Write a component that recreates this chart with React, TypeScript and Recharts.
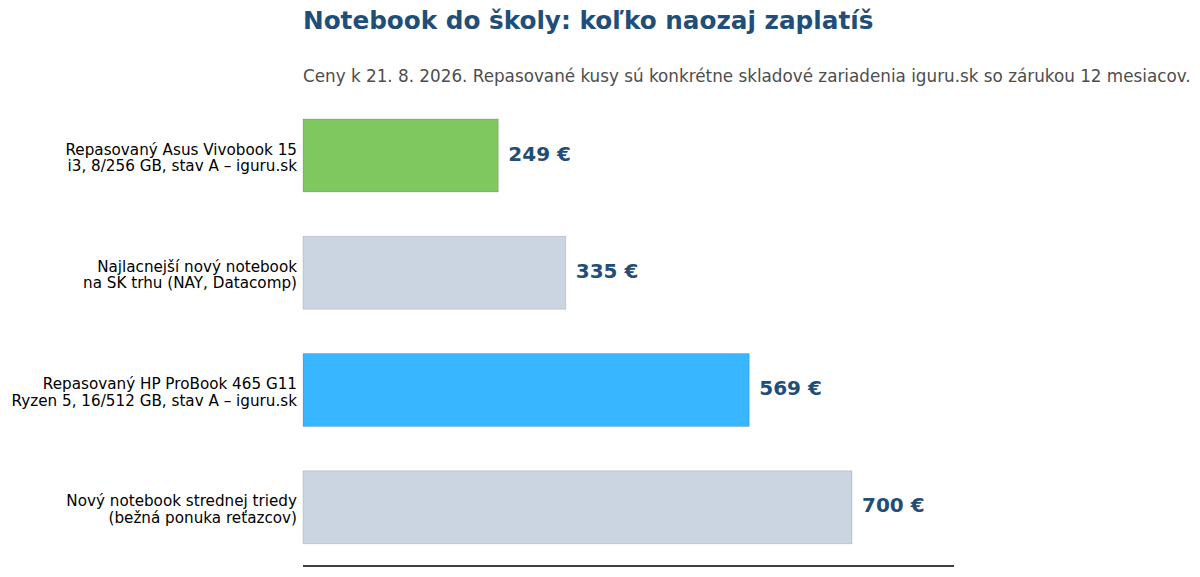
import { BarChart, Bar, XAxis, YAxis, Cell, LabelList } from "recharts";

const categories = [
  ["Repasovaný Asus Vivobook 15", "i3, 8/256 GB, stav A – iguru.sk"],
  ["Najlacnejší nový notebook", "na SK trhu (NAY, Datacomp)"],
  ["Repasovaný HP ProBook 465 G11", "Ryzen 5, 16/512 GB, stav A – iguru.sk"],
  ["Nový notebook strednej triedy", "(bežná ponuka reťazcov)"],
];
const prices = [249, 335, 569, 700];
const colors = ["#7fc75f", "#cbd5e1", "#38b6ff", "#cbd5e1"];

const FONT = "'DejaVu Sans', Verdana, sans-serif";

const data = categories.map((lines, i) => ({
  name: lines.join("\n"),
  price: prices[i],
}));

function CategoryTick({ x, y, payload }: { x?: number; y?: number; payload?: { value: string } }) {
  const lines = (payload?.value ?? "").split("\n");
  const px = (x ?? 0) + 2;
  return (
    <text x={px} y={y} textAnchor="end" fontFamily={FONT} fontSize={15.2} fill="#000">
      {lines.map((l, i) => (
        <tspan key={i} x={px} dy={i === 0 ? -1 : 16.4}>
          {l}
        </tspan>
      ))}
    </text>
  );
}

export default function App() {
  return (
    <div style={{ position: "absolute", left: 0, top: 0, width: 1200, height: 577, background: "#fff", fontFamily: FONT }}>
      <div style={{ position: "absolute", left: 303, top: 6, fontSize: 24.7, fontWeight: "bold", color: "#1f4e79", whiteSpace: "nowrap" }}>
        Notebook do školy: koľko naozaj zaplatíš
      </div>
      <div style={{ position: "absolute", left: 303, top: 66, fontSize: 16.8, color: "#4d4d4d", whiteSpace: "nowrap" }}>
        Ceny k 21. 8. 2026. Repasované kusy sú konkrétne skladové zariadenia iguru.sk so zárukou 12 mesiacov.
      </div>
      <BarChart
        width={1200}
        height={577}
        data={data}
        layout="vertical"
        margin={{ top: 97, right: 246, bottom: 10, left: 0 }}
        barSize={73}
      >
        <XAxis
          type="number"
          domain={[0, 830]}
          tick={false}
          tickLine={false}
          height={1}
          stroke="#000"
          axisLine={{ stroke: "#000", strokeWidth: 1.6 }}
        />
        <YAxis
          type="category"
          dataKey="name"
          width={303}
          axisLine={false}
          tickLine={false}
          tick={<CategoryTick />}
        />
        <Bar dataKey="price" isAnimationActive={false} stroke="rgba(0,0,0,0.12)" strokeWidth={1}>
          {data.map((_, i) => (
            <Cell key={i} fill={colors[i]} />
          ))}
          <LabelList
            dataKey="price"
            position="right"
            offset={10}
            dy={-2}
            formatter={(v: number) => `${v} €`}
            style={{ fontFamily: FONT, fontSize: 20, fontWeight: "bold", fill: "#1f4e79" }}
          />
        </Bar>
      </BarChart>
    </div>
  );
}
